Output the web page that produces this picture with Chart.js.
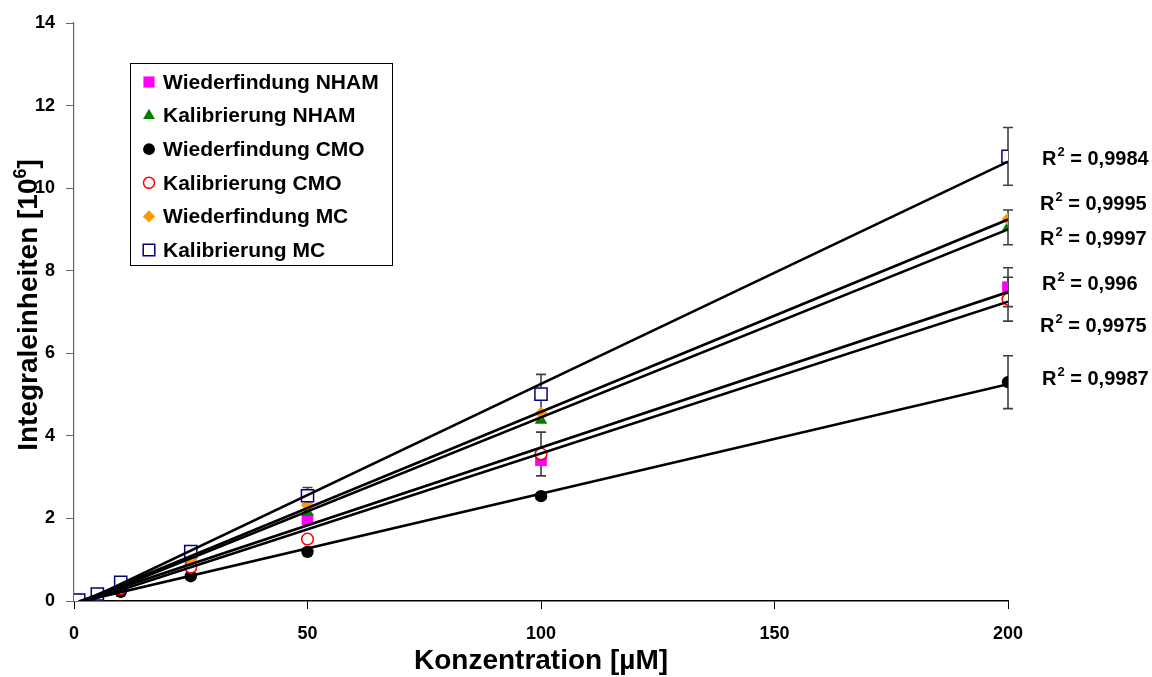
<!DOCTYPE html>
<html><head><meta charset="utf-8">
<script src="https://cdn.jsdelivr.net/npm/chart.js@4/dist/chart.umd.min.js"></script>
<style>html,body{margin:0;padding:0;background:#fff;overflow:hidden}</style>
</head><body>
<canvas id="c" width="1152" height="677" style="width:1152px;height:677px;display:block"></canvas>
<script>
// ---- data ----
const concentrations = [1, 5, 10, 25, 50, 100, 200];
const wiederfindungNHAM = [0.02, 0.15, 0.33, 0.88, 1.98, 3.41, 7.60];
const kalibrierungNHAM  = [0.02, 0.16, 0.36, 0.95, 2.15, 4.38, 9.05];
const wiederfindungCMO  = [0.02, 0.13, 0.22, 0.60, 1.19, 2.54, 5.30];
const kalibrierungCMO   = [0.02, 0.15, 0.30, 0.82, 1.50, 3.56, 7.31];
const wiederfindungMC   = [0.02, 0.16, 0.38, 0.99, 2.32, 4.55, 9.25];
const kalibrierungMC    = [0.02, 0.17, 0.45, 1.20, 2.55, 5.01, 10.77];

const errWiederfindungNHAM = [null, null, null, null, null, null, 0.47];
const errKalibrierungNHAM  = [null, null, null, null, null, null, 0.42];
const errWiederfindungCMO  = [null, null, null, null, null, null, 0.64];
const errKalibrierungCMO   = [null, null, null, null, null, 0.53, 0.53];
const errWiederfindungMC   = [null, null, null, null, null, null, null];
const errKalibrierungMC    = [null, null, null, null, 0.20, 0.48, 0.70];

const seriesNames = ['Wiederfindung NHAM', 'Kalibrierung NHAM', 'Wiederfindung CMO', 'Kalibrierung CMO', 'Wiederfindung MC', 'Kalibrierung MC'];
const r2Values = ['0,996', '0,9997', '0,9987', '0,9975', '0,9995', '0,9984'];
const xTickValues = [0, 50, 100, 150, 200];
const yTickValues = [0, 2, 4, 6, 8, 10, 12, 14];
const xTitle = 'Konzentration [µM]';
const yTitleMain = 'Integraleinheiten [10', yTitleSup = '6', yTitleEnd = ']';

// ---- styles ----
const seriesValues = [wiederfindungNHAM, kalibrierungNHAM, wiederfindungCMO, kalibrierungCMO, wiederfindungMC, kalibrierungMC];
const seriesErrors = [errWiederfindungNHAM, errKalibrierungNHAM, errWiederfindungCMO, errKalibrierungCMO, errWiederfindungMC, errKalibrierungMC];
const styles = [
  {pointStyle:'rect', radius:8.3, bg:'#ff00ff', border:'#ff00ff', bw:0},
  {pointStyle:'triangle', radius:7.2, bg:'#008000', border:'#008000', bw:0},
  {pointStyle:'circle', radius:6.2, bg:'#000000', border:'#000000', bw:0},
  {pointStyle:'circle', radius:5.8, bg:'#ffffff', border:'#ff0000', bw:1.5},
  {pointStyle:'rectRot', radius:6.5, bg:'#ff9900', border:'#ff9900', bw:0},
  {pointStyle:'rect', radius:8.6, bg:'#ffffff', border:'#000080', bw:1.5}
];
// label anchors (axis units) for R² texts, in series order
const r2LabelY = [7.70, 8.79, 5.40, 6.68, 9.64, 10.73];
const r2LabelX = [1042, 1040, 1042, 1040, 1040, 1042];

const FONT = 'Arial, "Liberation Sans", sans-serif';

function fit(xs, ys) {
  const n = xs.length;
  let sx=0, sy=0, sxx=0, sxy=0;
  for (let i=0;i<n;i++){ sx+=xs[i]; sy+=ys[i]; sxx+=xs[i]*xs[i]; sxy+=xs[i]*ys[i]; }
  const b = (n*sxy - sx*sy)/(n*sxx - sx*sx);
  const a = (sy - b*sx)/n;
  return {a, b};
}

const datasets = [];
const xMin = Math.min(...concentrations), xMax = Math.max(...concentrations);
seriesValues.forEach((vals, i) => {
  const f = fit(concentrations, vals);
  datasets.push({
    type:'line', label:'trend'+i, isTrend:true,
    data:[{x:xMin, y:f.a+f.b*xMin},{x:xMax, y:f.a+f.b*xMax}],
    borderColor:'#000', borderWidth:2.6, pointRadius:0, fill:false, order:0
  });
});
seriesValues.forEach((vals, i) => {
  const s = styles[i];
  datasets.push({
    type:'scatter', label:seriesNames[i], seriesIndex:i,
    data: concentrations.map((x, k) => ({x, y: vals[k]})),
    pointStyle:s.pointStyle, pointRadius:s.radius, pointHoverRadius:s.radius,
    backgroundColor:s.bg, borderColor:s.border, pointBorderWidth:s.bw, borderWidth:s.bw,
    order: 7 - i
  });
});

const errorBarPlugin = {
  id:'errorBars',
  beforeDatasetsDraw(chart) {
    const ctx = chart.ctx, ys = chart.scales.y;
    ctx.save();
    ctx.strokeStyle = '#404040'; ctx.lineWidth = 1.6;
    chart.data.datasets.forEach((ds, di) => {
      if (ds.isTrend) return;
      const errs = seriesErrors[ds.seriesIndex];
      const meta = chart.getDatasetMeta(di);
      meta.data.forEach((pt, k) => {
        const e = errs[k];
        if (e == null) return;
        const v = ds.data[k].y;
        const top = ys.getPixelForValue(v + e), bot = ys.getPixelForValue(v - e);
        ctx.beginPath();
        ctx.moveTo(pt.x, top); ctx.lineTo(pt.x, bot);
        ctx.moveTo(pt.x - 5, top); ctx.lineTo(pt.x + 5, top);
        ctx.moveTo(pt.x - 5, bot); ctx.lineTo(pt.x + 5, bot);
        ctx.stroke();
      });
    });
    ctx.restore();
  }
};

const decorPlugin = {
  id:'decor',
  afterDraw(chart) {
    const ctx = chart.ctx, ys = chart.scales.y, area = chart.chartArea;
    ctx.save();
    // R² labels
    ctx.fillStyle = '#000'; ctx.textBaseline = 'alphabetic'; ctx.textAlign = 'left';
    r2Values.forEach((r, i) => {
      const y = ys.getPixelForValue(r2LabelY[i]) + 7;
      let x = r2LabelX[i];
      ctx.font = 'bold 20px ' + FONT;
      ctx.fillText('R', x, y); x += ctx.measureText('R').width + 1;
      ctx.font = 'bold 13px ' + FONT;
      ctx.fillText('2', x, y - 9); x += ctx.measureText('2').width;
      ctx.font = 'bold 20px ' + FONT;
      ctx.fillText(' = ' + r, x, y);
    });
    // X axis title
    ctx.font = 'bold 28px ' + FONT; ctx.textAlign = 'center';
    ctx.fillText(xTitle, (area.left + area.right)/2, 669);
    // Y axis title with superscript
    ctx.textAlign = 'left';
    ctx.translate(0, 305);
    ctx.rotate(-Math.PI/2);
    ctx.font = 'bold 28px ' + FONT;
    const w1 = ctx.measureText(yTitleMain).width, w3 = ctx.measureText(yTitleEnd).width;
    ctx.font = 'bold 18px ' + FONT;
    const w2 = ctx.measureText(yTitleSup).width;
    let x = -(w1 + w2 + w3)/2;
    ctx.font = 'bold 28px ' + FONT; ctx.fillText(yTitleMain, x, 37); x += w1;
    ctx.font = 'bold 18px ' + FONT; ctx.fillText(yTitleSup, x, 26); x += w2;
    ctx.font = 'bold 28px ' + FONT; ctx.fillText(yTitleEnd, x, 37);
    ctx.restore();

    // Legend
    ctx.save();
    const bx = 130.5, by = 63.5, bw = 262, bh = 202;
    ctx.fillStyle = '#fff'; ctx.fillRect(bx, by, bw, bh);
    ctx.strokeStyle = '#000'; ctx.lineWidth = 1; ctx.strokeRect(bx, by, bw, bh);
    seriesNames.forEach((name, i) => {
      const s = styles[i];
      const cy = 82 + i*33.6;
      ctx.fillStyle = s.bg; ctx.strokeStyle = s.border; ctx.lineWidth = s.bw || 0.0001;
      Chart.helpers.drawPoint(ctx, {pointStyle:s.pointStyle, radius: s.radius*0.95, rotation:0, borderWidth:s.bw}, 149, cy);
      ctx.fillStyle = '#000';
      ctx.font = 'bold 21px ' + FONT; ctx.textBaseline = 'middle'; ctx.textAlign = 'left';
      ctx.fillText(name, 163, cy + 1);
    });
    ctx.restore();
  }
};

new Chart(document.getElementById('c'), {
  data:{datasets},
  options:{
    responsive:false, animation:false, devicePixelRatio:1,
    layout:{padding:{left:0, top:23, right:144, bottom:0}},
    plugins:{legend:{display:false}, tooltip:{enabled:false}},
    scales:{
      x:{type:'linear', min:0, max:200,
        afterFit(s){ s.height = 76; },
        afterBuildTicks(s){ s.ticks = xTickValues.map(v => ({value:v})); },
        grid:{drawOnChartArea:false, drawTicks:true, tickLength:8, color:'#000', lineWidth:1},
        border:{display:true, color:'#000', width:1.5},
        ticks:{color:'#000', font:{family:FONT, size:18, weight:'bold'}, padding:14, maxRotation:0},
        title:{display:false}
      },
      y:{type:'linear', min:0, max:14,
        afterFit(s){ s.width = 74; },
        afterBuildTicks(s){ s.ticks = yTickValues.map(v => ({value:v})); },
        grid:{drawOnChartArea:false, drawTicks:true, tickLength:8, color:'#666', lineWidth:1},
        border:{display:true, color:'#666', width:1.2},
        ticks:{color:'#000', font:{family:FONT, size:18, weight:'bold'}, padding:11},
        title:{display:false}
      }
    }
  },
  plugins:[errorBarPlugin, decorPlugin]
});
</script>
</body></html>
